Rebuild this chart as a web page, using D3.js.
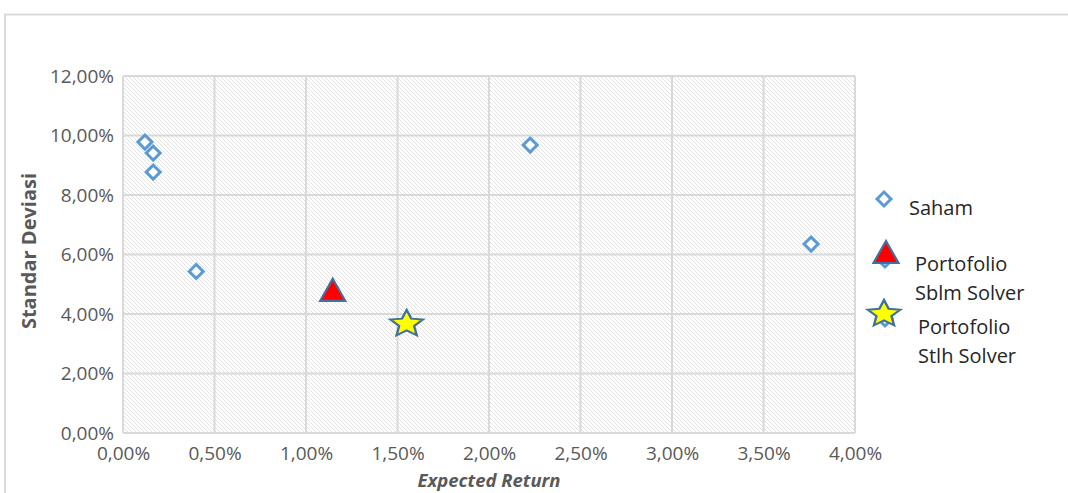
<!DOCTYPE html>
<html>
<head>
<meta charset="utf-8">
<script src="https://cdn.jsdelivr.net/npm/d3@7"></script>
<style>
  html, body { margin: 0; padding: 0; background: #fff; }
  svg { display: block; font-family: "Open Sans", "Noto Sans", sans-serif; }
</style>
</head>
<body>
<svg id="chart" width="1068" height="493"></svg>
<script>
// Individual stocks: expected return vs. standard deviation (fractions)
const sahamReturn = [0.0012, 0.00165, 0.00165, 0.0040, 0.02225, 0.0376];
const sahamStdev  = [0.0978, 0.0941, 0.0877, 0.0543, 0.0968, 0.0635];

// Portfolio before solver optimisation
const sblmReturn = [0.01146];
const sblmStdev  = [0.0478];

// Portfolio after solver optimisation
const stlhReturn = [0.0155];
const stlhStdev  = [0.0370];

const xTicks = [0, 0.005, 0.01, 0.015, 0.02, 0.025, 0.03, 0.035, 0.04];
const yTicks = [0, 0.02, 0.04, 0.06, 0.08, 0.10, 0.12];

const legendLabels = [["Saham"], ["Portofolio", "Sblm Solver"], ["Portofolio", "Stlh Solver"]];

const svg = d3.select("#chart");
const W = 1068, H = 493;
const plot = { left: 123, right: 855, top: 76, bottom: 433 };

const fmt = v => (v * 100).toFixed(2).replace(".", ",") + "%";

const x = d3.scaleLinear().domain([0, 0.04]).range([plot.left, plot.right]);
const y = d3.scaleLinear().domain([0, 0.12]).range([plot.bottom, plot.top]);

// Hatched plot-area fill
const defs = svg.append("defs");
const pat = defs.append("pattern")
  .attr("id", "hatch").attr("patternUnits", "userSpaceOnUse")
  .attr("width", 4).attr("height", 4);
pat.append("rect").attr("width", 4).attr("height", 4).attr("fill", "#ffffff");
pat.append("path")
  .attr("d", "M-1,-1 L5,5 M-1,3 L1,5 M3,-1 L5,1")
  .attr("stroke", "#e2e2e2").attr("stroke-width", 1);

// Chart frame
svg.append("rect")
  .attr("x", 5).attr("y", 14.5).attr("width", W + 10).attr("height", H)
  .attr("fill", "none").attr("stroke", "#d9d9d9").attr("stroke-width", 2);

svg.append("rect")
  .attr("x", plot.left).attr("y", plot.top)
  .attr("width", plot.right - plot.left).attr("height", plot.bottom - plot.top)
  .attr("fill", "url(#hatch)");

// Gridlines
const grid = svg.append("g").attr("stroke", "#d9d9d9").attr("stroke-width", 2);
grid.selectAll("line.v").data(xTicks).join("line").attr("class", "v")
  .attr("x1", d => x(d)).attr("x2", d => x(d))
  .attr("y1", plot.top).attr("y2", plot.bottom);
grid.selectAll("line.h").data(yTicks).join("line").attr("class", "h")
  .attr("y1", d => y(d)).attr("y2", d => y(d))
  .attr("x1", plot.left).attr("x2", plot.right);

// Axes (labels only; lines come from gridlines)
const xAxis = svg.append("g").attr("transform", `translate(0,${plot.bottom})`)
  .call(d3.axisBottom(x).tickValues(xTicks).tickFormat(fmt).tickSize(0).tickPadding(14));
const yAxis = svg.append("g").attr("transform", `translate(${plot.left},0)`)
  .call(d3.axisLeft(y).tickValues(yTicks).tickFormat(fmt).tickSize(0).tickPadding(9));
[xAxis, yAxis].forEach(g => {
  g.select(".domain").remove();
  g.selectAll("text").attr("fill", "#595959").style("font-size", "19px")
    .style("font-family", "'Open Sans', sans-serif");
});

// Axis titles
svg.append("text")
  .attr("x", 489).attr("y", 487)
  .attr("text-anchor", "middle").attr("fill", "#595959")
  .style("font-size", "18.5px").style("font-weight", "bold").style("font-style", "italic")
  .text("Expected Return");
svg.append("text")
  .attr("transform", "translate(36,251) rotate(-90)")
  .attr("text-anchor", "middle").attr("fill", "#595959")
  .style("font-size", "20px").style("font-weight", "bold")
  .text("Standar Deviasi");

// Marker shapes
const diamond = d3.symbol().type(d3.symbolSquare).size(98)();
const triangle = "M0,-12 L12.5,10 L-12.5,10 Z";
const star = d3.lineRadial().curve(d3.curveLinearClosed)(
  d3.range(10).map(i => [i * Math.PI / 5, i % 2 ? 6.5 : 14])
);

const blue = "#5b9bd5", darkBlue = "#41719c";

function drawDiamond(g, cx, cy) {
  g.append("path").attr("d", diamond)
    .attr("transform", `translate(${cx},${cy}) rotate(45)`)
    .attr("fill", "#fff").attr("stroke", blue).attr("stroke-width", 3);
}
function drawTriangle(g, cx, cy) {
  g.append("path").attr("d", triangle)
    .attr("transform", `translate(${cx},${cy})`)
    .attr("fill", "#ff0000").attr("stroke", darkBlue).attr("stroke-width", 2.2);
}
function drawStar(g, cx, cy) {
  g.append("path").attr("d", star)
    .attr("transform", `translate(${cx},${cy + 1}) scale(1.22,1)`)
    .attr("fill", "#ffff00").attr("stroke", darkBlue).attr("stroke-width", 2);
}

const marks = svg.append("g");
sahamReturn.forEach((r, i) => drawDiamond(marks, x(r), y(sahamStdev[i])));
sblmReturn.forEach((r, i) => drawTriangle(marks, x(r), y(sblmStdev[i])));
stlhReturn.forEach((r, i) => drawStar(marks, x(r), y(stlhStdev[i])));

// Legend
const lg = svg.append("g");
const legendItems = [
  { draw: (g) => drawDiamond(g, 884, 199), tx: 909, ty: 215 },
  { draw: (g) => { drawDiamond(g, 885, 260); drawTriangle(g, 886, 253); }, tx: 915, ty: 271 },
  { draw: (g) => { drawDiamond(g, 885, 319); drawStar(g, 884, 313); }, tx: 918, ty: 334 }
];
legendItems.forEach((it, i) => {
  it.draw(lg);
  const t = lg.append("text").attr("x", it.tx).attr("y", it.ty)
    .attr("fill", "#262626").style("font-size", "20px")
    .style("font-family", "'Open Sans', sans-serif");
  legendLabels[i].forEach((line, j) => {
    t.append("tspan").attr("x", it.tx).attr("dy", j === 0 ? 0 : 29).text(line);
  });
});
</script>
</body>
</html>
